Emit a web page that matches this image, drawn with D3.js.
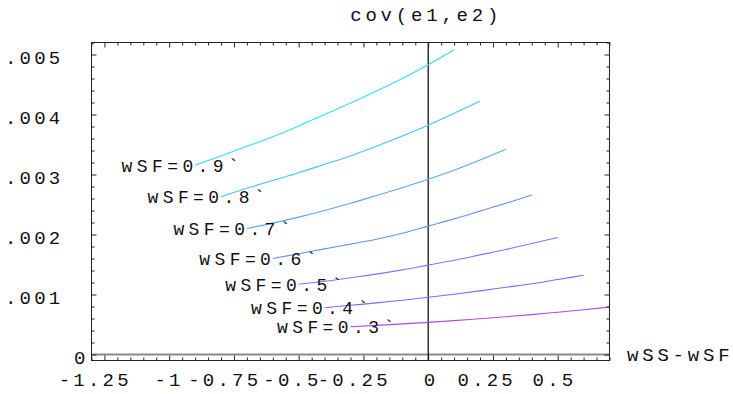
<!DOCTYPE html>
<html>
<head>
<meta charset="utf-8">
<script src="https://cdn.jsdelivr.net/npm/d3@7"></script>
<style>
  body { margin: 0; background: #fff; }
  text { font-family: "Liberation Mono", "DejaVu Sans Mono", monospace; font-size: 19px; letter-spacing: 3.8px; fill: #111; }
  text.lab { font-size: 18px; letter-spacing: 4.4px; }
  text.xt, text.yt { letter-spacing: 3.2px; }
</style>
</head>
<body>
<div id="chart"></div>
<script>
// wSS grid, x = wSS - wSF
var wSS = [0, 0.1, 0.2, 0.3, 0.4, 0.5, 0.6, 0.7, 0.8, 0.9, 1.0];
var wSF = [0.9, 0.8, 0.7, 0.6, 0.5, 0.4, 0.3];

// cov(e1,e2), one list per wSF
var cov09 = [0.003156, 0.00331, 0.00347, 0.00363, 0.00381, 0.00400, 0.00419, 0.00439, 0.00460, 0.00483, 0.00508];
var cov08 = [0.00263, 0.00277, 0.00290, 0.00303, 0.00317, 0.00331, 0.00347, 0.00364, 0.00382, 0.00402, 0.00422];
var cov07 = [0.00210, 0.00219, 0.00229, 0.00240, 0.00252, 0.00265, 0.00278, 0.00292, 0.00307, 0.00324, 0.00342];
var cov06 = [0.00160, 0.00168, 0.00176, 0.00184, 0.00192, 0.00202, 0.00214, 0.00226, 0.00239, 0.00252, 0.00266];
var cov05 = [0.00117, 0.00122, 0.00128, 0.00134, 0.00141, 0.00149, 0.00157, 0.00166, 0.00175, 0.00185, 0.00195];
var cov04 = [0.00078, 0.00082, 0.00086, 0.000905, 0.000953, 0.001005, 0.00106, 0.00112, 0.00118, 0.00125, 0.00132];
var cov03 = [0.000463, 0.000485, 0.00051, 0.000536, 0.000565, 0.000597, 0.00063, 0.000665, 0.000705, 0.000745, 0.00079];
var covs = [cov09, cov08, cov07, cov06, cov05, cov04, cov03];

var colors = ['#30e0ff', '#40c4ff', '#55a8ff', '#668fff', '#7a78ff', '#9460ff', '#ae48ff'];

var xMajor = [-1.25, -1, -0.75, -0.5, -0.25, 0, 0.25, 0.5];
var xTickLabels = ['-1.25', '-1', '-0.75', '-0.5', '-0.25', '0', '0.25', '0.5'];
var yMajor = [0, 0.001, 0.002, 0.003, 0.004, 0.005];
var yTickLabels = ['0', '.001', '.002', '.003', '.004', '.005'];

var width = 733, height = 394;

var x = d3.scaleLinear().domain([-1.3, 0.7]).range([91.5, 609.5]);
var y = d3.scaleLinear().domain([-0.0001, 0.0052]).range([360.5, 42.5]);

var xMinor = d3.range(-26, 15).map(function(i) { return i * 0.05; })
  .filter(function(v) { return Math.abs(Math.round(v / 0.25) * 0.25 - v) > 1e-6; });
var yMinor = d3.range(0, 27).map(function(i) { return i * 0.0002; })
  .filter(function(v) { return Math.abs(Math.round(v / 0.001) * 0.001 - v) > 1e-9; });

var svg = d3.select('#chart')
  .append('svg')
  .attr('width', width)
  .attr('height', height);

var line = d3.line()
  .x(function(d) { return x(d[0]); })
  .y(function(d) { return y(d[1]); })
  .curve(d3.curveMonotoneX);

var series = wSF.map(function(f, i) {
  return {
    wSF: f,
    color: colors[i],
    pts: wSS.map(function(s, j) { return [s - f, covs[i][j]]; })
  };
});

// axes through 0
svg.append('line')
  .attr('x1', x.range()[0]).attr('x2', x.range()[1])
  .attr('y1', y(0)).attr('y2', y(0))
  .attr('stroke', '#8a8a8a')
  .attr('stroke-width', 2);

svg.append('line')
  .attr('x1', x(0)).attr('x2', x(0))
  .attr('y1', y.range()[1]).attr('y2', y.range()[0])
  .attr('stroke', '#000')
  .attr('stroke-width', 1.2);

svg.append('g')
  .selectAll('path.curve')
  .data(series)
  .enter().append('path')
  .attr('class', 'curve')
  .attr('fill', 'none')
  .attr('stroke', function(d) { return d.color; })
  .attr('stroke-width', 1.1)
  .attr('d', function(d) { return line(d.pts); });

// labels at each curve start
svg.append('g')
  .selectAll('text.lab')
  .data(series)
  .enter().append('text')
  .attr('class', 'lab')
  .attr('x', function(d) { return x(d.pts[0][0]) - 73.5; })
  .attr('y', function(d) { return y(d.pts[0][1]) + 6.5; })
  .text(function(d) { return 'wSF=' + d.wSF + '`'; });

// frame with inward ticks on all sides
function frameAxis(axisFn, scale, values, size, transform) {
  svg.append('g')
    .attr('transform', transform)
    .call(axisFn(scale).tickValues(values).tickSize(size).tickFormat(''))
    .call(function(g) {
      g.select('.domain').remove();
      g.selectAll('line').attr('stroke', '#222');
    });
}
frameAxis(d3.axisBottom, x, xMajor, -5, 'translate(0,' + y.range()[0] + ')');
frameAxis(d3.axisBottom, x, xMinor, -3, 'translate(0,' + y.range()[0] + ')');
frameAxis(d3.axisTop, x, xMajor, -5, 'translate(0,' + y.range()[1] + ')');
frameAxis(d3.axisTop, x, xMinor, -3, 'translate(0,' + y.range()[1] + ')');
frameAxis(d3.axisLeft, y, yMajor, -5, 'translate(' + x.range()[0] + ',0)');
frameAxis(d3.axisLeft, y, yMinor, -3, 'translate(' + x.range()[0] + ',0)');
frameAxis(d3.axisRight, y, yMajor, -5, 'translate(' + x.range()[1] + ',0)');
frameAxis(d3.axisRight, y, yMinor, -3, 'translate(' + x.range()[1] + ',0)');

svg.append('rect')
  .attr('x', x.range()[0]).attr('y', y.range()[1])
  .attr('width', x.range()[1] - x.range()[0])
  .attr('height', y.range()[0] - y.range()[1])
  .attr('fill', 'none')
  .attr('stroke', '#222')
  .attr('stroke-width', 1);

// tick labels (last glyph without trailing spacing)
function tickText(sel, labels) {
  sel.each(function(d, i) {
    var s = labels[i];
    var t = d3.select(this);
    t.append('tspan').text(s.slice(0, -1));
    t.append('tspan').style('letter-spacing', '0px').text(s.slice(-1));
  });
}

svg.append('g')
  .selectAll('text.xt')
  .data(xMajor)
  .enter().append('text')
  .attr('class', 'xt')
  .attr('x', function(d, i) { return x(d) - (xTickLabels[i].length - 1) * 10.3 - 4.5; })
  .attr('y', 386)
  .call(tickText, xTickLabels);

svg.append('g')
  .selectAll('text.yt')
  .data(yMajor)
  .enter().append('text')
  .attr('class', 'yt')
  .attr('x', function(d, i) { return 97 - yTickLabels[i].length * 23; })
  .attr('y', function(d) { return y(d) + 9.5; })
  .call(tickText, yTickLabels);

// axis names
svg.append('text')
  .attr('x', x(0) - 78)
  .attr('y', 21)
  .text('cov(e1,e2)');

svg.append('text')
  .attr('x', 627)
  .attr('y', 361)
  .text('wSS-wSF');
</script>
</body>
</html>
